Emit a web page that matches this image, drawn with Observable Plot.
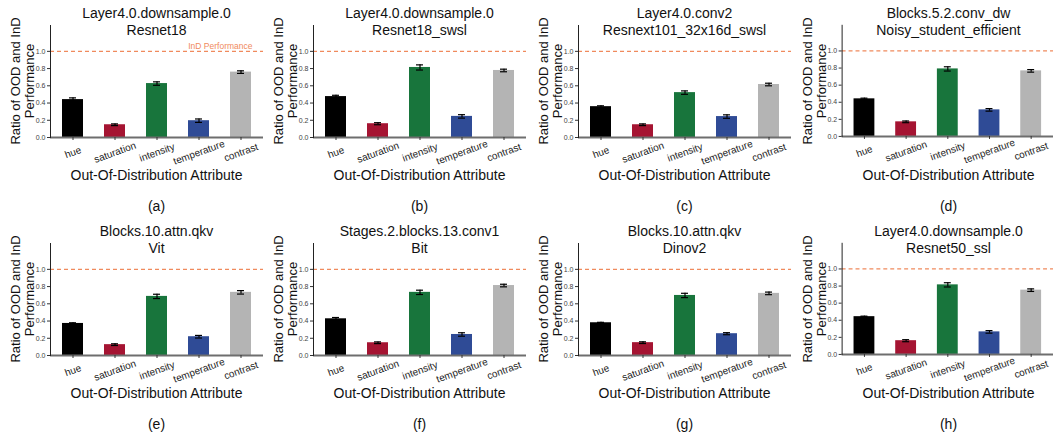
<!DOCTYPE html>
<html><head><meta charset="utf-8">
<script src="https://cdn.jsdelivr.net/npm/d3@7"></script>
<script src="https://cdn.jsdelivr.net/npm/@observablehq/plot@0.6"></script>
<style>
html,body{margin:0;padding:0;background:#fff;overflow:hidden;}
#root{position:relative;width:1053px;height:439px;font-family:"Liberation Sans",Arial,Helvetica,sans-serif;color:#111;}
.abs{position:absolute;white-space:nowrap;line-height:1;transform:translate(-50%,-50%);text-align:center;}
.title{font-size:14px;line-height:17px;}
.xlab{font-size:14px;}
.cap{font-size:14px;}
.ylab{font-size:13px;line-height:14px;transform:translate(-50%,-50%) rotate(-90deg);}
.panel{position:absolute;}
</style></head>
<body><div id="root"></div>
<script>
// ---- data ----
const attributes = ["hue", "saturation", "intensity", "temperature", "contrast"];
const barColors = ["#000000", "#a51432", "#18753c", "#2f4b96", "#b4b4b4"];
const yTicks = [0, 0.2, 0.4, 0.6, 0.8, 1.0];
const inDLevel = 1.0;

const layerNames = ["Layer4.0.downsample.0", "Layer4.0.downsample.0", "Layer4.0.conv2", "Blocks.5.2.conv_dw",
                    "Blocks.10.attn.qkv", "Stages.2.blocks.13.conv1", "Blocks.10.attn.qkv", "Layer4.0.downsample.0"];
const modelNames = ["Resnet18", "Resnet18_swsl", "Resnext101_32x16d_swsl", "Noisy_student_efficient",
                    "Vit", "Bit", "Dinov2", "Resnet50_ssl"];
const captions = ["(a)", "(b)", "(c)", "(d)", "(e)", "(f)", "(g)", "(h)"];

const meansA = [0.440, 0.148, 0.626, 0.195, 0.759];
const errA   = [0.020, 0.010, 0.020, 0.020, 0.015];
const meansB = [0.475, 0.160, 0.813, 0.245, 0.778];
const errB   = [0.015, 0.012, 0.030, 0.020, 0.015];
const meansC = [0.358, 0.148, 0.521, 0.243, 0.615];
const errC   = [0.010, 0.010, 0.020, 0.020, 0.015];
const meansD = [0.440, 0.171, 0.790, 0.311, 0.767];
const errD   = [0.008, 0.010, 0.025, 0.015, 0.015];
const meansE = [0.372, 0.126, 0.686, 0.218, 0.733];
const errE   = [0.008, 0.010, 0.025, 0.015, 0.020];
const meansF = [0.426, 0.148, 0.733, 0.244, 0.812];
const errF   = [0.015, 0.010, 0.025, 0.020, 0.015];
const meansG = [0.380, 0.149, 0.697, 0.253, 0.721];
const errG   = [0.005, 0.010, 0.025, 0.012, 0.015];
const meansH = [0.442, 0.161, 0.814, 0.264, 0.752];
const errH   = [0.006, 0.012, 0.025, 0.015, 0.015];

const allMeans = [meansA, meansB, meansC, meansD, meansE, meansF, meansG, meansH];
const allErrs  = [errA, errB, errC, errD, errE, errF, errG, errH];

// ---- layout ----
const colLeft = [0, 263, 528, 792];
const rowTop = [0, 218];
const mL = 50, plotW = 213, W = mL + plotW, mT = 25, plotH = 112, mB = 33, H = mT + plotH + mB;
const font = '"Liberation Sans", Arial, Helvetica, sans-serif';
const dashColor = "#f08a5d";

const root = document.getElementById("root");
function addDiv(cls, html, x, y) {
  const d = document.createElement("div");
  d.className = "abs " + cls;
  d.innerHTML = html;
  d.style.left = x + "px";
  d.style.top = y + "px";
  root.appendChild(d);
  return d;
}

for (let i = 0; i < 8; i++) {
  const r = Math.floor(i / 4), c = i % 4;
  const left = colLeft[c], top = rowTop[r];
  const rows = attributes.map((a, k) => ({attr: a, mean: allMeans[i][k], err: allErrs[i][k]}));

  const marks = [
    Plot.barY(rows, {x: "attr", y: "mean", fill: "attr"}),
    Plot.ruleY([inDLevel], {stroke: dashColor, strokeDasharray: "4,3", strokeWidth: 1.3}),
    Plot.ruleX(rows, {x: "attr", y1: d => d.mean - d.err, y2: d => d.mean + d.err, stroke: "#000", strokeWidth: 1.2}),
    Plot.tickY(rows, {x: "attr", y: d => d.mean - d.err, stroke: "#000", strokeWidth: 1.2, insetLeft: 7, insetRight: 7}),
    Plot.tickY(rows, {x: "attr", y: d => d.mean + d.err, stroke: "#000", strokeWidth: 1.2, insetLeft: 7, insetRight: 7}),
    Plot.ruleY([0], {stroke: "#6e6e6e", strokeWidth: 2}),
    Plot.frame({anchor: "left", stroke: "#222", strokeWidth: 1}),
    Plot.axisY({ticks: yTicks, tickFormat: d3.format(".1f"), tickSize: 3, tickPadding: 2, fontSize: 7, fill: "#444", stroke: "#333", label: null}),
    Plot.axisX({tickSize: 3, tickFormat: () => "", label: null, stroke: "#333"}),
    Plot.text(attributes, {x: d => d, frameAnchor: "bottom", rotate: -20, dy: 15, fontSize: 10, textAnchor: "middle", lineAnchor: "middle", fill: "#222"})
  ];
  if (i === 0) {
    marks.push(Plot.text(["InD Performance"], {y: () => inDLevel, frameAnchor: "right", dx: -11, dy: -5, textAnchor: "end", fontSize: 8.5, fill: dashColor}));
  }

  const chart = Plot.plot({
    width: W, height: H,
    marginTop: mT, marginBottom: mB, marginLeft: mL, marginRight: 0,
    style: {fontFamily: font, background: "transparent", overflow: "visible"},
    x: {domain: attributes, paddingInner: 0.5, paddingOuter: 0.25, axis: null},
    y: {domain: [0, 1.3], axis: null},
    color: {domain: attributes, range: barColors},
    marks
  });
  const holder = document.createElement("div");
  holder.className = "panel";
  holder.style.left = left + "px";
  holder.style.top = top + "px";
  holder.appendChild(chart);
  root.appendChild(holder);

  const cx = left + mL + plotW / 2;
  addDiv("title", layerNames[i] + "<br>" + modelNames[i], cx, top + 22);
  addDiv("ylab", "Ratio of OOD and InD<br>Performance", left + 23, top + 81);
  addDiv("xlab", "Out-Of-Distribution Attribute", cx, top + 175);
  addDiv("cap", captions[i], cx, top + 206);
}
</script>
</body></html>
